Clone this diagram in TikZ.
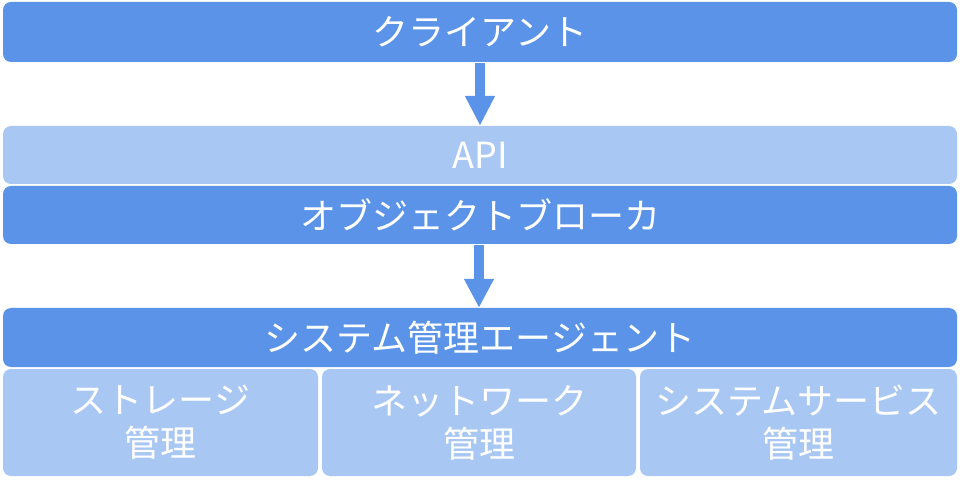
\documentclass[tikz,border=0pt]{standalone}
\usepackage{fontspec}
\newfontfamily\jp{Noto Sans CJK JP}
\usetikzlibrary{arrows.meta}
\definecolor{darkb}{HTML}{5A93E7}
\definecolor{lightb}{HTML}{A9C7F3}
\tikzset{
  bar/.style={rounded corners=8pt, inner sep=0pt, text=white, font=\jp\fontsize{36}{43}\selectfont, align=center},
  darkbar/.style={bar, fill=darkb},
  lightbar/.style={bar, fill=lightb},
}
\begin{document}
\begin{tikzpicture}[x=1pt,y=-1pt]
\useasboundingbox (0,0) rectangle (962,481);
\fill[white] (0,0) rectangle (962,481);
\node[darkbar, minimum width=954pt, minimum height=60pt] (client) at (480,32) {クライアント};
\node[lightbar, minimum width=954pt, minimum height=58pt] (api) at (480,155) {API};
\node[darkbar, minimum width=954pt, minimum height=58pt] (broker) at (480,215) {オブジェクトブローカ};
\node[darkbar, minimum width=954pt, minimum height=59pt] (agent) at (480,337.5) {システム管理エージェント};
\node[lightbar, minimum width=315pt, minimum height=107pt] (storage) at (160.5,422.5) {ストレージ\\管理};
\node[lightbar, minimum width=314pt, minimum height=107pt] (network) at (479,422.5) {ネットワーク\\管理};
\node[lightbar, minimum width=317pt, minimum height=107pt] (sysserv) at (798.5,422.5) {システムサービス\\管理};
\draw[line width=10pt, darkb, -{Triangle[length=30pt,width=28pt]}] (client.south -| 480,0) ++(0,1) -- (api.north -| 480,0);
\draw[line width=10pt, darkb, -{Triangle[length=29pt,width=28pt]}] (broker.south -| 479,0) ++(0,1) -- (agent.north -| 479,0);
\end{tikzpicture}
\end{document}
